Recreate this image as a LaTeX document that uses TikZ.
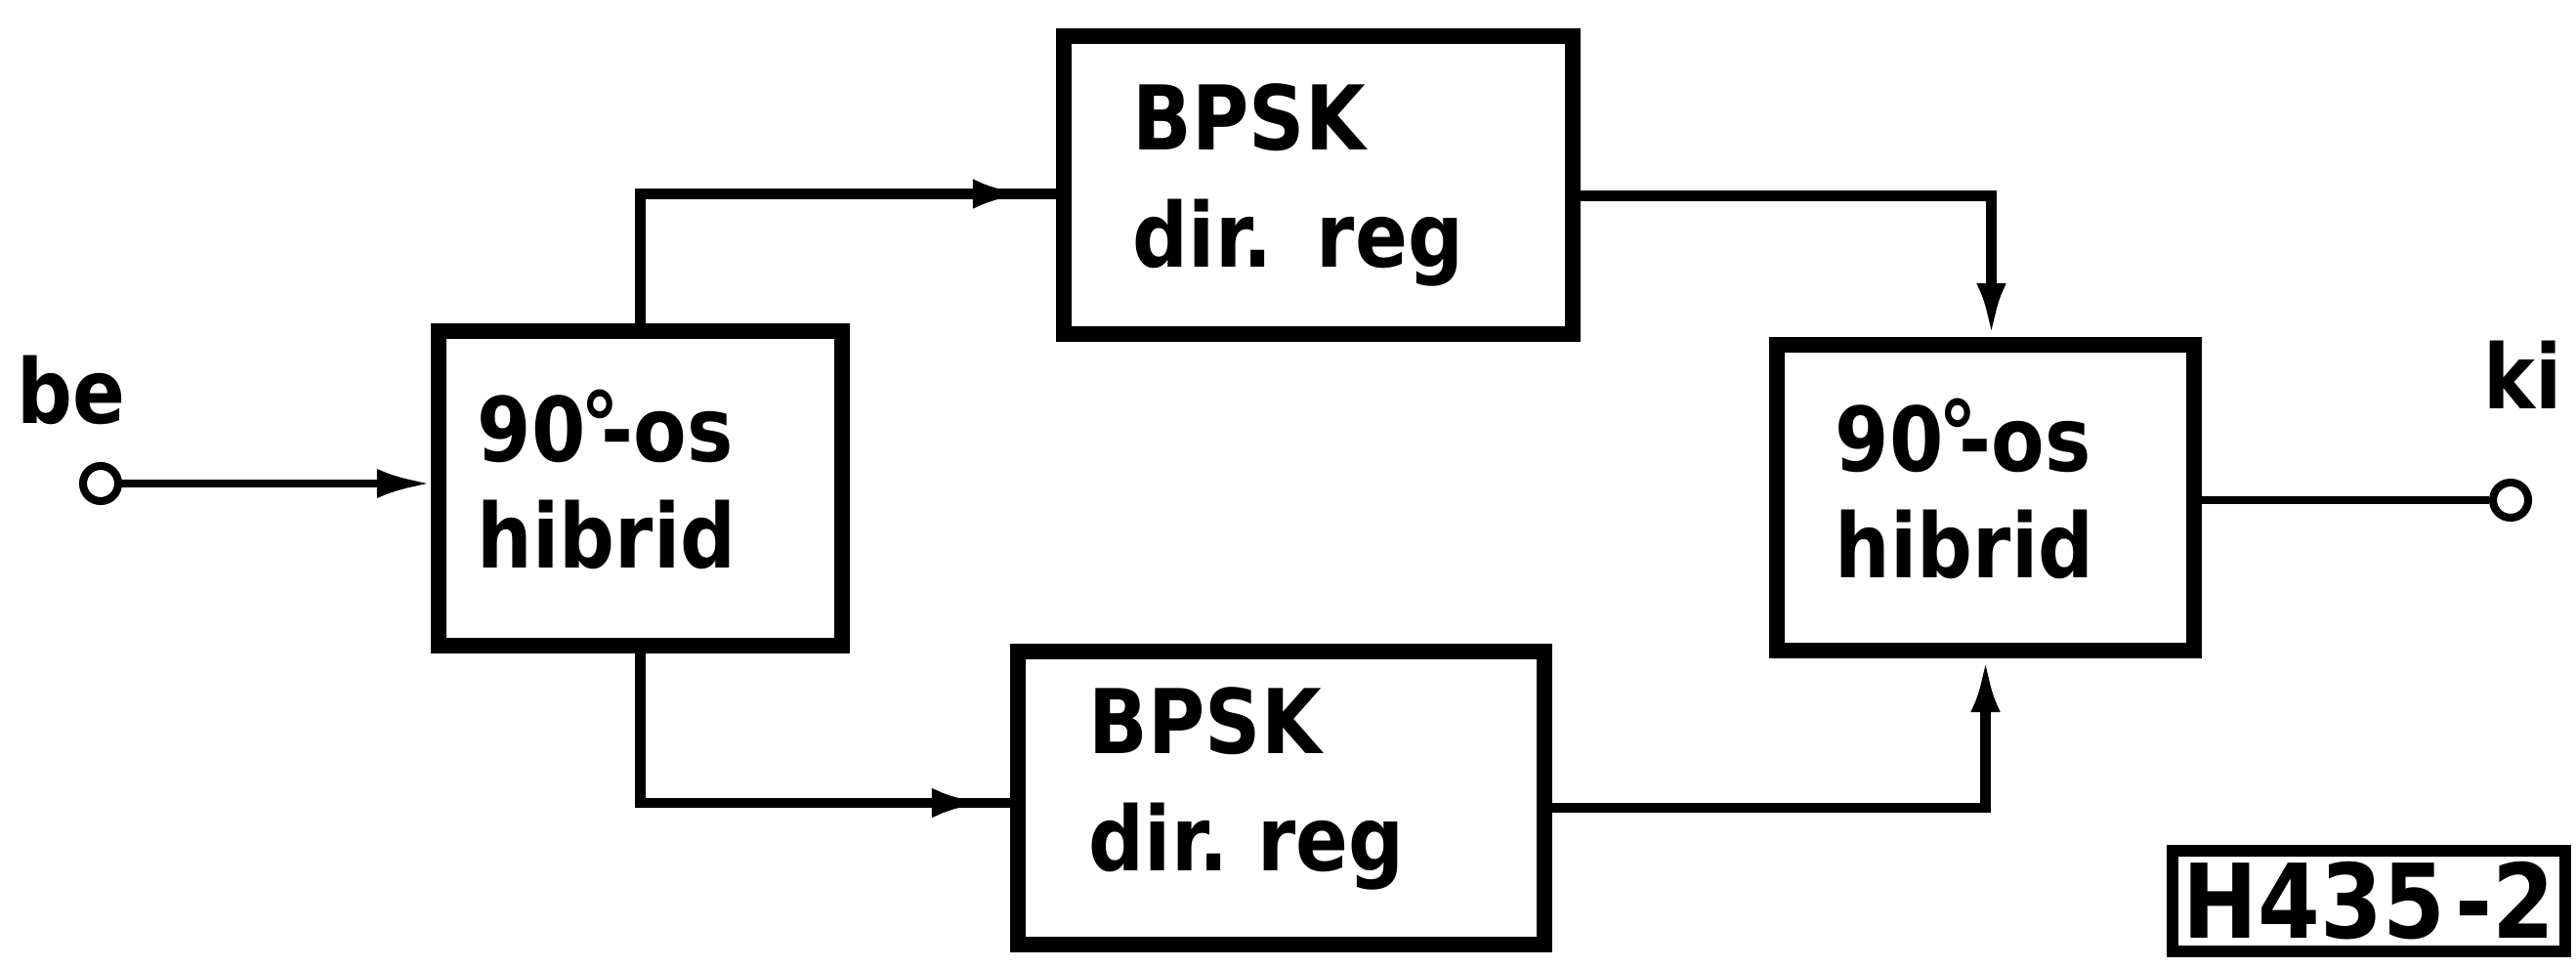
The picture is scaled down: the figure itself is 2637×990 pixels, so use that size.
\documentclass[tikz,border=0pt]{standalone}
\usepackage{fontspec}
\setmainfont{DejaVu Sans}[FakeStretch=0.87]
\usetikzlibrary{arrows.meta,decorations.markings}

\newcommand{\degos}{90\kern-0.06em\raisebox{0.06em}{°}\kern-0.2em-os}

\begin{document}
\begin{tikzpicture}[x=0.01cm,y=-0.01cm,
  >={Latex[length=0.55cm,width=0.3cm]},
  blk/.style={draw, rectangle, line width=4.5pt, align=left, inner ysep=0pt,
    font=\fontsize{26}{34}\selectfont\bfseries},
  hyb/.style={blk, font=\fontsize{26}{31}\selectfont\bfseries},
  wire/.style={line width=2.9pt},
  lead/.style={line width=2.3pt},
  term/.style={circle, draw, line width=2.3pt, minimum size=0.36cm, inner sep=0pt},
  arrowbefore/.style={postaction={decorate},
    decoration={markings, mark=at position #1 with {\arrow{>}}}},
  lbl/.style={font=\fontsize{26}{31}\selectfont\bfseries, inner sep=0pt, anchor=base}
]
% page
\fill[white] (0,0) rectangle (2637,990);

% blocks
\node[hyb, minimum width=4.13cm, minimum height=3.22cm, text width=3.33cm,
  inner xsep=0.4cm] (lhyb) at (655.5,500) {\degos\\hibrid\vphantom{g}};
\node[blk, minimum width=5.21cm, minimum height=3.05cm, text width=3.79cm,
  inner xsep=0.71cm] (tbpsk) at (1349.5,189.5) {BPSK\\dir. reg};
\node[blk, minimum width=5.39cm, minimum height=3.0cm, text width=3.93cm,
  inner xsep=0.73cm] (bbpsk) at (1311.5,817) {BPSK\\dir.\ reg\rule[-11pt]{0pt}{0pt}};
\node[hyb, minimum width=4.27cm, minimum height=3.13cm, text width=3.07cm,
  inner xsep=0.6cm] (rhyb) at (2032.5,509.5) {\degos\\hibrid\vphantom{g}};

% drawing number
\node[draw, line width=3.4pt, minimum width=4.02cm, minimum height=1.03cm,
  inner sep=0pt, font=\fontsize{30}{36}\selectfont\bfseries] (code) at (2425,922.5)
  {H435\kern0.1em-2};

% terminals
\node[term] (bein) at (103,495) {};
\node[term] (kiout) at (2570,512) {};
\node[lbl] (belbl) at (73,433) {be};
\node[lbl] (kilbl) at (2583,418) {ki};

% connections
\draw[lead,->] (bein) -- (bein -| lhyb.west);
\draw[lead] (rhyb.east |- kiout) -- (kiout);
\draw[wire, arrowbefore=-0.3cm] (lhyb.north) |- ([yshift=-0.09cm]tbpsk.west);
\draw[wire, arrowbefore=-0.25cm] (lhyb.south) |- ([yshift=-0.05cm]bbpsk.west);
\draw[wire,->] ([yshift=-0.11cm]tbpsk.east) -| ([xshift=0.06cm]rhyb.north);
\draw[wire,->] ([yshift=-0.1cm]bbpsk.east) -| (rhyb.south);
\end{tikzpicture}
\end{document}
